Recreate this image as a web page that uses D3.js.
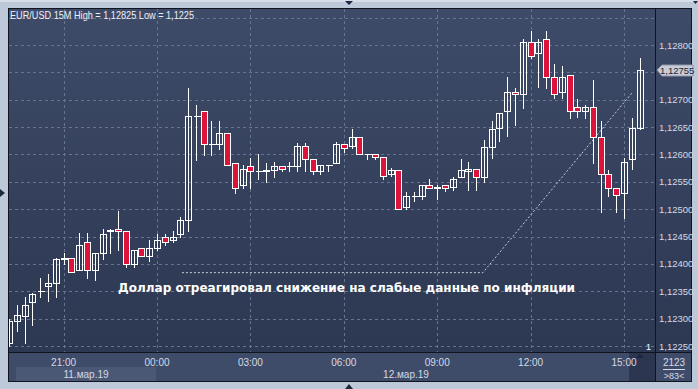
<!DOCTYPE html>
<html lang="ru">

<head>
  <meta charset="UTF-8">
  <script src="https://d3js.org/d3.v7.min.js"></script>
  <title>EUR/USD 15M</title>
  <style>
    body { margin: 0; background: #bdc8d8; }
    text { font-family: "Liberation Sans", Arial, sans-serif; }
  </style>
</head>

<body>
  <svg width="698" height="389"></svg>

  <script>
    // 15-minute candles, EUR/USD, starting 11 March 2019 19:15
    const START = new Date(2019, 2, 11, 19, 15)
    const STEP_MIN = 15

    const opens = [
      1.12256, 1.12295, 1.12304, 1.12330, 1.12350, 1.12359, 1.12365, 1.12409, 1.12410, 1.12389,
      1.12440, 1.12389, 1.12420, 1.12461, 1.12464, 1.12460, 1.12400, 1.12429, 1.12415, 1.12429,
      1.12450, 1.12444, 1.12455, 1.12481, 1.12670, 1.12680, 1.12620, 1.12620, 1.12640, 1.12585,
      1.12545, 1.12579, 1.12570, 1.12570, 1.12571, 1.12579, 1.12578, 1.12579, 1.12615, 1.12591,
      1.12570, 1.12580, 1.12585, 1.12620, 1.12615, 1.12631, 1.12600, 1.12600, 1.12595, 1.12565,
      1.12571, 1.12504, 1.12524, 1.12524, 1.12545, 1.12539, 1.12545, 1.12540, 1.12559, 1.12570,
      1.12574, 1.12559, 1.12614, 1.12649, 1.12680, 1.12715, 1.12710, 1.12805, 1.12785, 1.12811,
      1.12741, 1.12715, 1.12745, 1.12686, 1.12680, 1.12686, 1.12631, 1.12565, 1.12539, 1.12530,
      1.12591, 1.12649
    ]
    const highs = [
      1.12300, 1.12325, 1.12340, 1.12346, 1.12375, 1.12382, 1.12410, 1.12420, 1.12410, 1.12456,
      1.12456, 1.12420, 1.12464, 1.12464, 1.12496, 1.12460, 1.12426, 1.12429, 1.12444, 1.12455,
      1.12455, 1.12461, 1.12486, 1.12721, 1.12690, 1.12680, 1.12661, 1.12661, 1.12640, 1.12585,
      1.12580, 1.12594, 1.12600, 1.12585, 1.12586, 1.12579, 1.12586, 1.12621, 1.12621, 1.12591,
      1.12580, 1.12580, 1.12622, 1.12620, 1.12646, 1.12631, 1.12600, 1.12600, 1.12595, 1.12575,
      1.12571, 1.12531, 1.12531, 1.12545, 1.12556, 1.12545, 1.12545, 1.12559, 1.12591, 1.12586,
      1.12574, 1.12626, 1.12661, 1.12675, 1.12741, 1.12722, 1.12811, 1.12825, 1.12811, 1.12825,
      1.12765, 1.12762, 1.12745, 1.12701, 1.12690, 1.12736, 1.12661, 1.12571, 1.12539, 1.12594,
      1.12666, 1.12776
    ]
    const lows = [
      1.12250, 1.12278, 1.12255, 1.12289, 1.12339, 1.12333, 1.12339, 1.12400, 1.12385, 1.12388,
      1.12374, 1.12370, 1.12409, 1.12420, 1.12425, 1.12394, 1.12394, 1.12414, 1.12405, 1.12425,
      1.12435, 1.12440, 1.12449, 1.12460, 1.12589, 1.12599, 1.12599, 1.12610, 1.12580, 1.12530,
      1.12539, 1.12539, 1.12555, 1.12550, 1.12559, 1.12570, 1.12570, 1.12570, 1.12570, 1.12564,
      1.12564, 1.12570, 1.12584, 1.12605, 1.12611, 1.12600, 1.12591, 1.12591, 1.12556, 1.12560,
      1.12500, 1.12500, 1.12515, 1.12519, 1.12539, 1.12519, 1.12534, 1.12535, 1.12559, 1.12535,
      1.12535, 1.12550, 1.12594, 1.12625, 1.12634, 1.12654, 1.12685, 1.12776, 1.12724, 1.12721,
      1.12704, 1.12704, 1.12666, 1.12668, 1.12666, 1.12584, 1.12495, 1.12524, 1.12495, 1.12484,
      1.12573, 1.12646
    ]
    const closes = [
      1.12296, 1.12306, 1.12325, 1.12345, 1.12351, 1.12365, 1.12409, 1.12410, 1.12386, 1.12435,
      1.12389, 1.12420, 1.12455, 1.12462, 1.12460, 1.12400, 1.12426, 1.12415, 1.12429, 1.12444,
      1.12440, 1.12450, 1.12481, 1.12670, 1.12670, 1.12620, 1.12620, 1.12640, 1.12580, 1.12539,
      1.12574, 1.12570, 1.12570, 1.12571, 1.12579, 1.12574, 1.12579, 1.12615, 1.12591, 1.12570,
      1.12580, 1.12580, 1.12620, 1.12611, 1.12631, 1.12600, 1.12600, 1.12595, 1.12560, 1.12571,
      1.12501, 1.12524, 1.12524, 1.12545, 1.12539, 1.12540, 1.12539, 1.12555, 1.12571, 1.12574,
      1.12559, 1.12614, 1.12646, 1.12675, 1.12715, 1.12710, 1.12805, 1.12779, 1.12805, 1.12741,
      1.12710, 1.12741, 1.12680, 1.12680, 1.12686, 1.12631, 1.12565, 1.12539, 1.12525, 1.12586,
      1.12649, 1.12755
    ]

    const priceTicks = [1.1225, 1.123, 1.1235, 1.124, 1.1245, 1.125, 1.1255, 1.126, 1.1265, 1.127, 1.1275, 1.128, 1.1285]
    const timeTicks = ['21:00', '00:00', '03:00', '06:00', '09:00', '12:00', '15:00']
    const dateLabels = ['11.мар.19', '12.мар.19']
    const TITLE = 'EUR/USD 15M High = 1,12825 Low = 1,1225'
    const NOTE = 'Доллар отреагировал снижение на слабые данные по инфляции'
    // annotation path in chart units: [minutes after START, price]
    const notePath = [[333, 1.12384], [913, 1.12384], [1200, 1.12712]]

    const BULL_FILL = 'none'
    const BEAR_FILL = '#dc143c'
    const CANDLE_STROKE = '#ffffff'
    const GRID_COLOR = '#66748f'
    const AXIS_TEXT = '#d4dae6'

    const svg = d3.select('svg')
    const fmt = (v) => v.toFixed(5).replace('.', ',')
    const timeAt = (m) => new Date(+START + m * 60000)

    const candles = opens.map((o, i) => ({
      t: timeAt(i * STEP_MIN), o, h: highs[i], l: lows[i], c: closes[i]
    }))

    const plot = { left: 9, top: 9, right: 655, bottom: 352 }

    const x = d3.scaleTime()
      .domain([new Date(2019, 2, 12, 0, 0), new Date(2019, 2, 12, 15, 0)])
      .range([157, 624])
    const y = d3.scaleLinear().domain([1.1225, 1.128]).range([346, 45])
    const px = (v) => Math.round(v) + 0.5

    // gradient for the plot background
    const defs = svg.append('defs')
    const grad = defs.append('linearGradient')
      .attr('id', 'bg').attr('x1', 0).attr('y1', 0).attr('x2', 0).attr('y2', 1)
    grad.append('stop').attr('offset', 0).attr('stop-color', '#3e4b68')
    grad.append('stop').attr('offset', 1).attr('stop-color', '#2b3650')
    defs.append('clipPath').attr('id', 'clip').append('rect')
      .attr('x', plot.left).attr('y', plot.top)
      .attr('width', plot.right - plot.left).attr('height', plot.bottom - plot.top)

    // outer frame
    svg.append('rect').attr('x', 0).attr('y', 0).attr('width', 698).attr('height', 389).attr('fill', '#bdc8d8')
    svg.append('rect').attr('x', 0).attr('y', 0).attr('width', 698).attr('height', 2).attr('fill', '#d6dde8')
    svg.append('rect').attr('x', 8).attr('y', 8).attr('width', 684).attr('height', 374)
      .attr('fill', 'url(#bg)')
    svg.append('rect').attr('x', 9).attr('y', 353).attr('width', 683).attr('height', 28).attr('fill', '#3f4c69')
    svg.append('rect').attr('x', 16).attr('y', 367).attr('width', 140).attr('height', 14).attr('fill', '#4b5875')
    svg.append('rect').attr('x', 629).attr('y', 353).attr('width', 26).attr('height', 28).attr('fill', '#2c3651')
    svg.append('path').attr('d', 'M636,358 L640,353 L644,358 Z').attr('fill', '#1f283d')

    // grid
    const grid = svg.append('g').attr('stroke', GRID_COLOR).attr('stroke-dasharray', '3,3')
      .attr('shape-rendering', 'crispEdges')
    grid.selectAll('.h').data(priceTicks).join('line')
      .attr('x1', plot.left).attr('x2', plot.right)
      .attr('y1', (d) => px(y(d))).attr('y2', (d) => px(y(d)))
    const tickTimes = timeTicks.map((s, i) => new Date(2019, 2, 12, 0 + (i - 1) * 3, 0))
    grid.selectAll('.v').data(tickTimes).join('line')
      .attr('x1', (d) => px(x(d))).attr('x2', (d) => px(x(d)))
      .attr('y1', plot.top).attr('y2', plot.bottom)

    // candles
    const cg = svg.append('g').attr('clip-path', 'url(#clip)').attr('shape-rendering', 'crispEdges')
    const candle = cg.selectAll('g.c').data(candles).join('g')
    candle.append('line')
      .attr('stroke', CANDLE_STROKE)
      .attr('x1', (d) => px(x(d.t))).attr('x2', (d) => px(x(d.t)))
      .attr('y1', (d) => Math.round(y(d.h))).attr('y2', (d) => Math.round(y(d.l)) + 1)
    candle.each(function (d) {
      const g = d3.select(this)
      const cx = px(x(d.t))
      const top = px(y(Math.max(d.o, d.c)))
      const bot = px(y(Math.min(d.o, d.c)))
      if (bot - top < 1) {
        g.append('line').attr('stroke', CANDLE_STROKE)
          .attr('x1', cx - 3).attr('x2', cx + 4).attr('y1', top).attr('y2', top)
      } else {
        g.append('rect')
          .attr('x', cx - 3).attr('y', top).attr('width', 6).attr('height', bot - top)
          .attr('fill', d.c >= d.o ? BULL_FILL : BEAR_FILL)
          .attr('stroke', CANDLE_STROKE)
      }
    })

    // annotation
    svg.append('path')
      .attr('d', d3.line().x((p) => x(timeAt(p[0]))).y((p) => y(p[1]))(notePath))
      .attr('fill', 'none').attr('stroke', '#c9cfdb').attr('stroke-width', 1)
      .attr('stroke-dasharray', '2,2')
    svg.append('text')
      .attr('x', 118).attr('y', 292)
      .attr('textLength', 457).attr('lengthAdjust', 'spacing')
      .style('font-family', '"DejaVu Sans", Verdana, sans-serif')
      .style('font-size', '12px').style('font-weight', 'bold')
      .attr('fill', '#ffffff').text(NOTE)

    // separators
    const sep = svg.append('g').attr('stroke', '#10141f').attr('shape-rendering', 'crispEdges')
    sep.append('line').attr('x1', 655.5).attr('x2', 655.5).attr('y1', 8).attr('y2', 381)
    sep.append('line').attr('x1', 8).attr('x2', 692).attr('y1', 352.5).attr('y2', 352.5)
    sep.append('rect').attr('x', 8.5).attr('y', 8.5).attr('width', 683).attr('height', 373)
      .attr('fill', 'none')

    // price axis
    svg.selectAll('.pl').data(priceTicks.filter((d) => d <= 1.128 && d !== 1.1275)).join('text')
      .attr('x', 659).attr('y', (d) => y(d) + 3.5)
      .attr('fill', AXIS_TEXT).style('font-size', '9.5px').text(fmt)

    // last price tag
    const last = candles[candles.length - 1].c
    const ty = Math.round(y(last))
    svg.append('path')
      .attr('d', `M657,${ty} L662,${ty - 5} L693,${ty - 5} L693,${ty + 6} L662,${ty + 6} Z`)
      .attr('fill', '#c7ccd6').attr('stroke', '#8e96a8')
    svg.append('text').attr('x', 660).attr('y', ty + 4).attr('fill', '#1c2436')
      .style('font-size', '9.5px').text(fmt(last))

    // time axis
    svg.selectAll('.tl').data(tickTimes).join('text')
      .attr('x', (d) => x(d)).attr('y', 366).attr('text-anchor', 'middle')
      .attr('fill', AXIS_TEXT).style('font-size', '10px')
      .text((d, i) => timeTicks[i])
    svg.selectAll('.dl').data(dateLabels).join('text')
      .attr('x', (d, i) => [86, 406][i]).attr('y', 378).attr('text-anchor', 'middle')
      .attr('fill', AXIS_TEXT).style('font-size', '10px').text((d) => d)

    // title and small captions
    svg.append('text').attr('x', 10).attr('y', 19).attr('fill', '#eef1f6')
      .attr('textLength', 184).attr('lengthAdjust', 'spacingAndGlyphs')
      .style('font-size', '11px').text(TITLE)
    svg.append('text').attr('x', 646).attr('y', 350).attr('fill', '#ffffff')
      .style('font-size', '9px').text('1')
    svg.append('text').attr('x', 674).attr('y', 366).attr('text-anchor', 'middle')
      .attr('fill', AXIS_TEXT).style('font-size', '10px').text('2123')
    svg.append('line').attr('x1', 663).attr('x2', 685).attr('y1', 369.5).attr('y2', 369.5)
      .attr('stroke', AXIS_TEXT)
    svg.append('text').attr('x', 674).attr('y', 379).attr('text-anchor', 'middle')
      .attr('fill', AXIS_TEXT).style('font-size', '9px').text('>83<')

    // scroll markers
    const mark = svg.append('g').attr('fill', '#1e2940')
    mark.append('path').attr('d', 'M345,1 L353,1 L349,5 Z')
    mark.append('path').attr('d', 'M345,389 L353,389 L349,384 Z')
    mark.append('path').attr('d', 'M0,189 L0,197 L5,193 Z')
    mark.append('path').attr('d', 'M693,1 L698,1 L695.5,4 Z')
  </script>
</body>

</html>
